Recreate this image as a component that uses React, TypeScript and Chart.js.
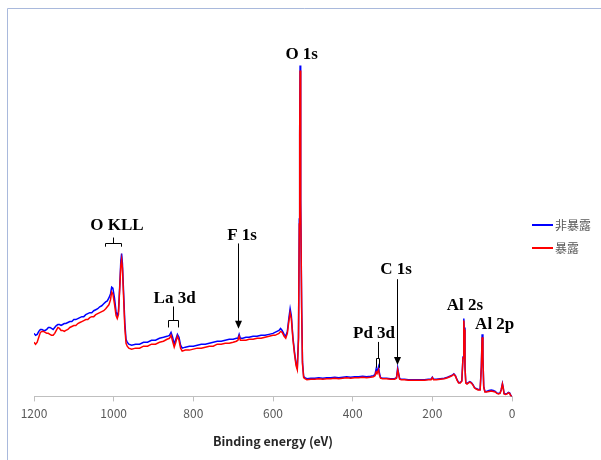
import React, { useEffect, useRef } from "react";
import { Chart, registerables } from "chart.js";

Chart.register(...registerables);

// Binding energy (eV), descending
const energies = [
  1200, 1196, 1192, 1188, 1184, 1180, 1176, 1172, 1168, 1164, 1160, 1156, 1152, 1148, 1144, 1140, 1136, 1132, 1128, 1124, 1120,
  1115, 1110, 1105, 1100, 1095, 1090, 1085, 1080, 1075, 1070, 1065, 1060, 1055, 1050, 1045, 1040, 1035, 1030, 1025, 1020,
  1016, 1012, 1008, 1005, 1002, 998, 994, 991, 988, 985, 982, 980, 978, 975, 972, 969, 966,
  962, 955, 945, 935, 925, 915, 905, 895, 885, 875, 866,
  860, 856, 852, 848, 844, 840, 836, 832, 828,
  820, 810, 800, 790, 780, 770, 760, 750, 740, 730, 720, 710, 700, 692,
  688, 685, 682, 676, 668, 660, 650, 640, 630, 620, 610, 600,
  595, 590, 585, 581, 577, 572, 568, 564, 560, 557, 554, 550, 546, 542, 539, 536, 534, 533, 532, 531, 530, 528, 526, 523, 520, 515,
  505, 495, 485, 475, 465, 455, 445, 435, 425, 415, 405, 395, 385, 375, 365, 355, 348,
  344, 341, 339, 337, 335, 333, 330,
  325, 315, 305, 295, 290, 287, 285, 282,
  278, 270, 260, 250, 240, 230, 220, 210, 203, 200, 197, 190, 180, 170, 162, 156, 150, 146, 142, 138, 134, 130, 126,
  123, 121, 120, 118, 116, 113, 110, 106, 102, 98, 94, 90, 85, 80, 77, 75, 73, 71, 68, 64, 58, 52, 47, 42, 38, 34, 30, 27, 24, 22, 20, 16, 12, 9, 6, 3, 0,
];

// 非暴露 (unexposed) intensity, arbitrary units
const unexposed = [
  64, 62, 63, 66, 68, 68, 67, 67, 68, 70, 70, 69, 68, 70, 72, 73, 73, 72, 73, 74, 74,
  75, 76, 76, 78, 78, 79, 80, 81, 81, 83, 84, 85, 85, 87, 88, 89, 91, 92, 94, 96,
  97, 100, 104, 111, 110, 100, 86, 82, 86, 110, 138, 145, 135, 105, 75, 58, 55,
  53, 52, 53, 53, 55, 55, 57, 57, 59, 60, 61,
  62, 65, 60, 53, 58, 63, 60, 52, 49,
  50, 51, 51, 52, 53, 53, 54, 55, 56, 56, 57, 58, 58, 59,
  59, 63, 59, 59, 60, 60, 61, 61, 62, 62, 63, 64,
  65, 66, 67, 69, 67, 63, 61, 66, 80, 89, 82, 60, 45, 33, 29, 60, 180, 270, 336, 290, 200, 90, 35, 20, 19, 18,
  18.5, 18.5, 19, 18.5, 19, 19, 19.5, 19, 19.5, 20, 19.5, 20, 20, 20.5, 20, 20.5, 21,
  22, 28, 26, 27, 30, 24, 19,
  18.5, 18.5, 18, 18, 19, 29, 24, 18,
  17.5, 17.5, 17, 17, 17, 17, 17, 17.5, 17.5, 19.5, 17.5, 17.5, 18, 18.5, 19.5, 20.5, 21.5, 23, 21, 17, 14, 14, 16,
  40, 79, 70, 30, 14, 13, 14, 15, 14, 12, 9, 8, 7, 7, 30, 63, 40, 10, 5, 5, 6, 6.5, 6, 5, 3.5, 3, 3.5, 7, 13, 9, 3, 2.5, 3, 4, 3.5, 1, 0,
];

// 暴露 (exposed) intensity, arbitrary units
const exposed = [
  55, 53, 55, 60, 65, 66, 66, 65, 64, 64, 63, 62, 62, 64, 67, 70, 69, 67, 67, 66, 67,
  68, 70, 71, 72, 72, 74, 75, 76, 77, 78, 78, 80, 81, 81, 83, 84, 85, 86, 87, 89,
  91, 93, 98, 106, 104, 94, 82, 79, 83, 108, 133, 139, 130, 100, 70, 54, 51,
  49, 48, 49, 49, 51, 51, 53, 53, 55, 56, 58,
  59, 62, 56, 50, 55, 61, 57, 49, 46,
  47, 47, 48, 49, 49, 50, 51, 51, 53, 53, 54, 54, 55, 56,
  57, 61, 57, 57, 57, 58, 58, 59, 59, 60, 61, 62,
  62, 63, 64, 66, 65, 61, 59, 64, 77, 85, 79, 58, 43, 31, 27, 58, 175, 265, 331, 286, 196, 86, 33, 19, 18, 17,
  17.5, 17.5, 18, 17.5, 18, 18, 18.5, 18, 18.5, 19, 18.5, 19, 19, 19.5, 19, 19.5, 20,
  21, 25, 24, 25, 27, 22, 18.5,
  18, 18, 17.5, 17.5, 18.5, 27, 23, 17.5,
  17, 17, 16.5, 16.5, 16.5, 16.5, 16.5, 17, 17, 19, 17, 17, 17.5, 18, 19, 20, 21, 22.5, 20.5, 16.5, 13.5, 13.5, 15.5,
  39, 77, 68, 29, 13.5, 12.5, 13.5, 14.5, 13.5, 11.5, 8.5, 7.5, 6.5, 6.5, 29, 60, 39, 9.5, 4.5, 4.5, 5, 5.5, 5, 4.5, 3, 2.5, 3, 6.5, 12.5, 8.5, 2.5, 2, 2.5, 3.5, 3, 0.5, 0,
];

const seriesLabels = ["非暴露", "暴露"];
const seriesColors = ["#0000ff", "#ff0000"];
const xTicks = [1200, 1000, 800, 600, 400, 200, 0];
const xTitle = "Binding energy (eV)";

// Peak annotation labels, anchored in data units (energy, intensity)
const peakLabels = ["O 1s", "O KLL", "La 3d", "F 1s", "Pd 3d", "C 1s", "Al 2s", "Al 2p"];
const peakLabelEnergy = [528, 991.6, 847, 677.8, 346.4, 291.2, 118, 43.4];
const peakLabelLevel = [347, 173, 99.5, 163, 64, 128.5, 92, 73];

// Brackets: [energyStart, energyEnd, stemEnergy, barLevel, endLevel, stemTopLevel]
const brackets = [
  [1021.7, 981.6, 1001.7, 155.3, 152, 161.3],
  [863.6, 838.5, 851, 78, 70, 91.3],
  [342.1, 333.1, 337.1, 39, 29, 55.3],
];
// Arrows: [energy, startLevel, tipLevel]
const arrows = [
  [688.6, 155.3, 68.7],
  [289.4, 119, 32],
];

const overlayPlugin = {
  id: "overlay",
  beforeDraw(chart: any) {
    const ctx = chart.ctx;
    ctx.save();
    ctx.strokeStyle = "#a9b9dc";
    ctx.lineWidth = 1;
    ctx.beginPath();
    ctx.moveTo(7.5, chart.height);
    ctx.lineTo(7.5, 8.5);
    ctx.lineTo(chart.width, 8.5);
    ctx.stroke();
    ctx.restore();
  },
  afterDraw(chart: any) {
    const ctx = chart.ctx;
    const xs = chart.scales.x;
    const ys = chart.scales.y;
    const X = (e: number) => xs.getPixelForValue(e);
    const Y = (v: number) => ys.getPixelForValue(v);
    ctx.save();
    // labels
    ctx.fillStyle = "#000";
    ctx.font = 'bold 17px "Liberation Serif", "Times New Roman", serif';
    ctx.textAlign = "center";
    ctx.textBaseline = "middle";
    peakLabels.forEach((t, i) => {
      ctx.fillText(t, X(peakLabelEnergy[i]), Y(peakLabelLevel[i]));
    });
    // brackets
    ctx.strokeStyle = "#000";
    ctx.lineWidth = 1;
    brackets.forEach(([e1, e2, es, bar, end, top]) => {
      ctx.beginPath();
      ctx.moveTo(Math.round(X(e1)) + 0.5, Y(end));
      ctx.lineTo(Math.round(X(e1)) + 0.5, Math.round(Y(bar)) + 0.5);
      ctx.lineTo(Math.round(X(e2)) + 0.5, Math.round(Y(bar)) + 0.5);
      ctx.lineTo(Math.round(X(e2)) + 0.5, Y(end));
      ctx.moveTo(Math.round(X(es)) + 0.5, Math.round(Y(bar)) + 0.5);
      ctx.lineTo(Math.round(X(es)) + 0.5, Y(top));
      ctx.stroke();
    });
    // arrows
    arrows.forEach(([e, from, tip]) => {
      const x = Math.round(X(e)) + 0.5;
      const y0 = Y(from);
      const y1 = Y(tip);
      ctx.beginPath();
      ctx.moveTo(x, y0);
      ctx.lineTo(x, y1 - 6);
      ctx.stroke();
      ctx.beginPath();
      ctx.moveTo(x, y1);
      ctx.lineTo(x - 3.5, y1 - 8);
      ctx.lineTo(x + 3.5, y1 - 8);
      ctx.closePath();
      ctx.fillStyle = "#000";
      ctx.fill();
    });
    // legend
    ctx.font = '12px "Noto Sans CJK JP", sans-serif';
    ctx.textAlign = "left";
    ctx.textBaseline = "middle";
    chart.data.datasets.forEach((ds: any, i: number) => {
      const y = 225 + i * 23;
      ctx.strokeStyle = ds.borderColor;
      ctx.lineWidth = 2;
      ctx.beginPath();
      ctx.moveTo(532, y);
      ctx.lineTo(553, y);
      ctx.stroke();
      ctx.fillStyle = "#595959";
      ctx.fillText(ds.label, 555, y);
    });
    ctx.restore();
  },
};

export default function App() {
  const canvasRef = useRef<HTMLCanvasElement | null>(null);

  useEffect(() => {
    const canvas = canvasRef.current;
    if (!canvas) return;
    const series = [unexposed, exposed];
    const chart = new Chart(canvas, {
      type: "line",
      data: {
        datasets: series.map((vals, i) => ({
          label: seriesLabels[i],
          data: energies.map((e, j) => ({ x: e, y: vals[j] })),
          borderColor: seriesColors[i],
          backgroundColor: seriesColors[i],
          borderWidth: 1.5,
          pointRadius: 0,
          tension: 0,
          fill: false,
          order: series.length - i,
        })),
      },
      options: {
        animation: false,
        responsive: false,
        devicePixelRatio: 1,
        layout: { padding: { left: 34, right: 89, top: 32, bottom: 11.2 } },
        plugins: { legend: { display: false }, tooltip: { enabled: false } },
        scales: {
          x: {
            type: "linear",
            reverse: true,
            min: 0,
            max: 1200,
            afterBuildTicks: (s: any) => {
              s.ticks = xTicks.map((v) => ({ value: v }));
            },
            ticks: {
              color: "#595959",
              padding: 5,
              maxRotation: 0,
              font: { family: '"Noto Sans CJK JP", sans-serif', size: 12 },
              callback: (v: any) => String(v),
            },
            grid: {
              display: true,
              drawOnChartArea: false,
              drawTicks: true,
              tickLength: 5,
              color: "#bfbfbf",
            },
            border: { display: true, color: "#bfbfbf", width: 1 },
            title: {
              display: true,
              text: xTitle,
              color: "#262626",
              padding: { top: 8, bottom: 0 },
              font: { family: '"Noto Sans CJK JP", sans-serif', size: 12.5, weight: "bold" },
            },
          },
          y: {
            display: false,
            min: 0,
            max: 370,
          },
        },
      },
      plugins: [overlayPlugin],
    } as any);
    return () => chart.destroy();
  }, []);

  return (
    <div style={{ position: "absolute", left: 0, top: 0, width: 601, height: 460, background: "#fff" }}>
      <canvas ref={canvasRef} width={601} height={460} style={{ width: 601, height: 460, display: "block" }} />
    </div>
  );
}
